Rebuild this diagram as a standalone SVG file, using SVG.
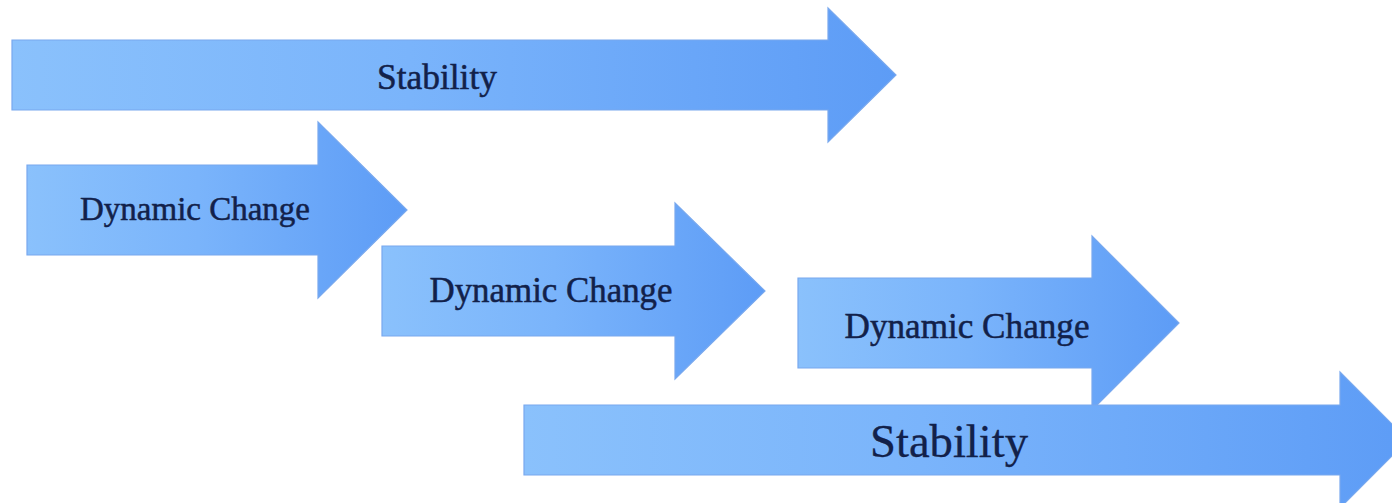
<svg xmlns="http://www.w3.org/2000/svg" width="1392" height="503" viewBox="0 0 1392 503">
  <defs>
    <linearGradient id="blueFill" x1="0" y1="0" x2="1" y2="0">
      <stop offset="0" stop-color="#8ac1fc"/>
      <stop offset="0.45" stop-color="#7ab4fb"/>
      <stop offset="1" stop-color="#5d9cf6"/>
    </linearGradient>
  </defs>
  <style>
    .arrow { fill: url(#blueFill); stroke: #78a8ee; stroke-width: 1.2; stroke-linejoin: miter; }
    .label { font-family: "Liberation Serif", "DejaVu Serif", serif; fill: #12214a; stroke: #12214a; stroke-width: 0.5; text-anchor: middle; }
    .big { stroke-width: 0.3; }
  </style>
  <rect width="1392" height="503" fill="#ffffff"/>

  <!-- upper long arrow -->
  <g id="stability-top">
    <polygon class="arrow" points="12,40 828,40 828,8 896,75 828,142 828,110 12,110"/>
    <text class="label" x="437" y="89" font-size="35" textLength="120" lengthAdjust="spacingAndGlyphs">Stability</text>
  </g>

  <!-- staggered change arrows -->
  <g id="change-1">
    <polygon class="arrow" points="27,165 318,165 318,122 407,210 318,298 318,255 27,255"/>
    <text class="label" x="195" y="220" font-size="33" textLength="230" lengthAdjust="spacingAndGlyphs">Dynamic Change</text>
  </g>

  <g id="change-2">
    <polygon class="arrow" points="382,246 675,246 675,203 765,291 675,379 675,336 382,336"/>
    <text class="label" x="551" y="302" font-size="35" textLength="243" lengthAdjust="spacingAndGlyphs">Dynamic Change</text>
  </g>

  <g id="change-3">
    <polygon class="arrow" points="798,278 1092,278 1092,236 1179,323 1092,410 1092,368 798,368"/>
    <text class="label" x="967" y="338" font-size="35" textLength="245" lengthAdjust="spacingAndGlyphs">Dynamic Change</text>
  </g>

  <!-- lower long arrow -->
  <g id="stability-bottom">
    <polygon class="arrow" points="524,405 1340,405 1340,372 1408,440 1340,508 1340,475 524,475"/>
    <text class="label big" x="949" y="457" font-size="46" textLength="158" lengthAdjust="spacingAndGlyphs">Stability</text>
  </g>

  <g id="connectors"/>
</svg>
